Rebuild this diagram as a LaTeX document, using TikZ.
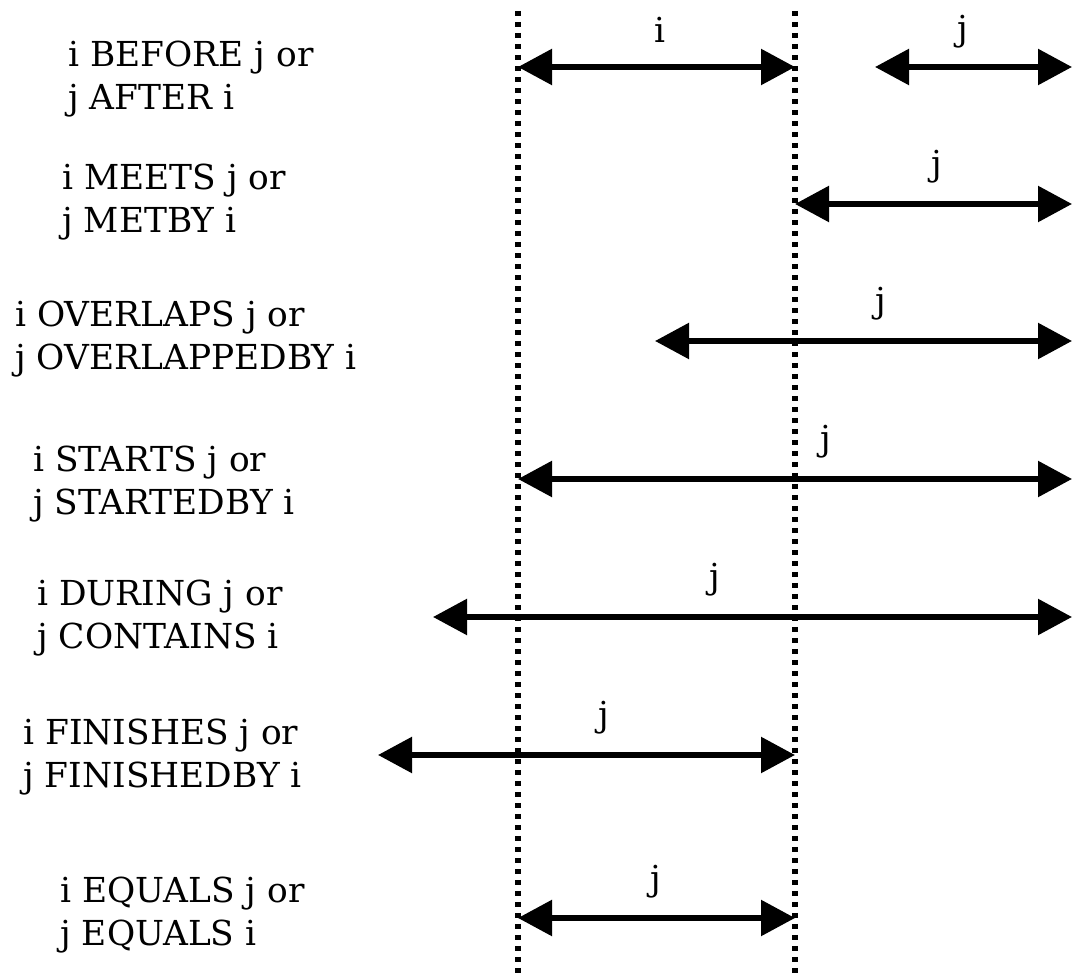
\documentclass[tikz,border=0pt]{standalone}
\usepackage{fontspec}
\setmainfont{DejaVu Serif}
\usetikzlibrary{arrows.meta}

\tikzset{
	relation/.style={anchor=base west, align=left, inner sep=0pt,
		font=\fontsize{17.2pt}{21.5pt}\selectfont},
	tag/.style={anchor=base, inner sep=0pt, font=\fontsize{17.2pt}{21.5pt}\selectfont},
	span/.style={line width=2.8pt, {Triangle[length=17pt,width=17.5pt]}-{Triangle[length=17pt,width=17.5pt]}},
	bound/.style={line width=2.6pt, dash pattern=on 2.6pt off 2.9pt}
}

\begin{document}
\begin{tikzpicture}[x=0.5pt, y=-0.5pt]
	\useasboundingbox (0,0) rectangle (1072,978);

	% boundaries of interval i
	\coordinate (istart) at (518,11);
	\coordinate (iend) at (795,11);
	\coordinate (istartbot) at (518,978);
	\coordinate (iendbot) at (795,978);
	\draw[bound] (istart) -- (istartbot);
	\draw[bound] (iend) -- (iendbot);

	% relation names (anchored on the second line)
	\node[relation] (before) at (68,110) {i BEFORE j or\\j AFTER i};
	\node[relation] (meets) at (62,233) {i MEETS j or\\j METBY i};
	\node[relation] (overlaps) at (15,370) {i OVERLAPS j or\\j OVERLAPPEDBY i};
	\node[relation] (starts) at (33,515) {i STARTS j or\\j STARTEDBY i};
	\node[relation] (during) at (37,649) {i DURING j or\\j CONTAINS i};
	\node[relation] (finishes) at (23,787) {i FINISHES j or\\j FINISHEDBY i};
	\node[relation] (equals) at (60,945) {i EQUALS j or\\j EQUALS i};

	% before
	\coordinate (ia) at (518,67);
	\coordinate (ib) at (795,67);
	\coordinate (ja1) at (875,67);
	\coordinate (jb1) at (1072,67);
	\draw[span] (ia) -- (ib);
	\draw[span] (ja1) -- (jb1);
	\node[tag] (ilabel) at (660,43) {i};
	\node[tag] (jlabel1) at (963,41) {j};

	% meets
	\coordinate (ja2) at (795,204);
	\coordinate (jb2) at (1072,204);
	\draw[span] (ja2) -- (jb2);
	\node[tag] (jlabel2) at (937,176) {j};

	% overlaps
	\coordinate (ja3) at (655,341);
	\coordinate (jb3) at (1072,341);
	\draw[span] (ja3) -- (jb3);
	\node[tag] (jlabel3) at (881,313) {j};

	% starts
	\coordinate (ja4) at (518,479);
	\coordinate (jb4) at (1072,479);
	\draw[span] (ja4) -- (jb4);
	\node[tag] (jlabel4) at (826,451) {j};

	% during
	\coordinate (ja5) at (433,617);
	\coordinate (jb5) at (1072,617);
	\draw[span] (ja5) -- (jb5);
	\node[tag] (jlabel5) at (715,589) {j};

	% finishes
	\coordinate (ja6) at (378,755);
	\coordinate (jb6) at (795,755);
	\draw[span] (ja6) -- (jb6);
	\node[tag] (jlabel6) at (604,726) {j};

	% equals
	\coordinate (ja7) at (518,918);
	\coordinate (jb7) at (795,918);
	\draw[span] (ja7) -- (jb7);
	\node[tag] (jlabel7) at (656,890) {j};
\end{tikzpicture}
\end{document}
